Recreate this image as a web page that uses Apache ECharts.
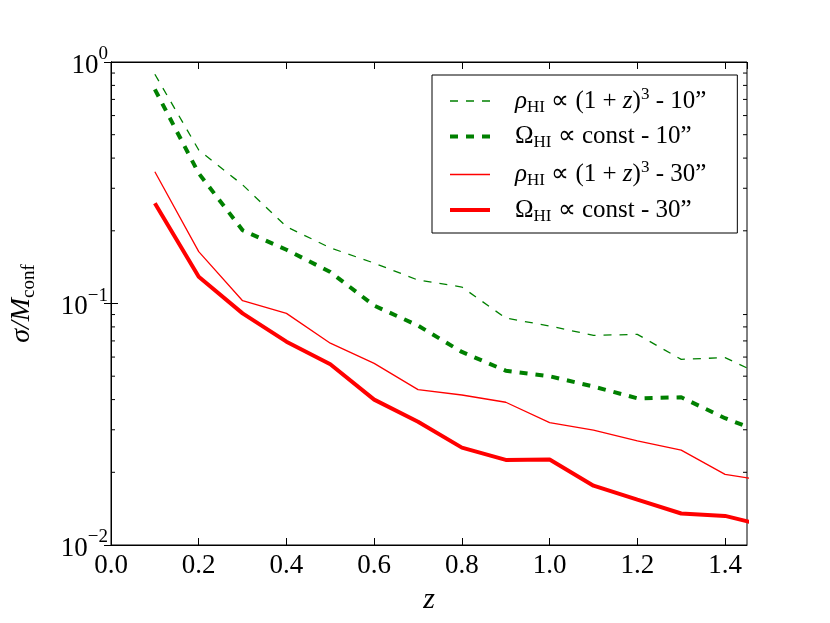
<!DOCTYPE html>
<html>
<head>
<meta charset="utf-8">
<script src="https://cdn.jsdelivr.net/npm/echarts@6/dist/echarts.min.js"></script>
<style>
  html, body { margin: 0; padding: 0; background: #fff; }
  #chart { width: 830px; height: 623px; }
</style>
</head>
<body>
<div id="chart"></div>
<script>
// redshift grid (last point sits past the right edge and is clipped)
var zValues = [0.1, 0.2, 0.3, 0.4, 0.5, 0.6, 0.7, 0.8, 0.9, 1.0, 1.1, 1.2, 1.3, 1.4, 1.5]
// sigma / M_conf
var rho10 = [0.89, 0.432, 0.31, 0.208, 0.170, 0.147, 0.125, 0.117, 0.087, 0.0807, 0.0738, 0.0745, 0.0587, 0.0597, 0.049]
var omega10 = [0.77, 0.346, 0.201, 0.167, 0.135, 0.098, 0.081, 0.063, 0.0527, 0.050, 0.0453, 0.0405, 0.0409, 0.0335, 0.0285]
var rho30 = [0.351, 0.164, 0.1027, 0.091, 0.0685, 0.0565, 0.044, 0.0418, 0.039, 0.0321, 0.0299, 0.0270, 0.0247, 0.0196, 0.0184]
var omega30 = [0.260, 0.129, 0.091, 0.0695, 0.056, 0.040, 0.0324, 0.0253, 0.0225, 0.0226, 0.0176, 0.0154, 0.0135, 0.0132, 0.0119]
// log axis minor ticks
var minorTicks = [0.02, 0.03, 0.04, 0.05, 0.06, 0.07, 0.08, 0.09, 0.2, 0.3, 0.4, 0.5, 0.6, 0.7, 0.8, 0.9]
var seriesNames = ['rho10', 'omega10', 'rho30', 'omega30']

var FONT = 'Liberation Serif'

function pairs (ys) {
  return ys.map(function (y, i) { return [zValues[i], y] })
}

// legend labels with sub/superscripts
var legendText = {
  rho10: '{i|ρ}{sub|HI}{n| ∝ (1 + }{i|z}{n|)}{sup|3}{n| - 10”}',
  omega10: '{n|Ω}{sub|HI}{n| ∝ const - 10”}',
  rho30: '{i|ρ}{sub|HI}{n| ∝ (1 + }{i|z}{n|)}{sup|3}{n| - 30”}',
  omega30: '{n|Ω}{sub|HI}{n| ∝ const - 30”}'
}

var richBase = {
  n: { fontFamily: FONT, fontSize: 25, color: '#000', lineHeight: 30, verticalAlign: 'middle' },
  i: { fontFamily: FONT, fontSize: 25, fontStyle: 'italic', color: '#000', lineHeight: 30, verticalAlign: 'middle' },
  sub: { fontFamily: FONT, fontSize: 17, color: '#000', lineHeight: 16, verticalAlign: 'bottom' },
  sup: { fontFamily: FONT, fontSize: 17, color: '#000', lineHeight: 16, verticalAlign: 'top' }
}

function lineSeries (name, data, color, width, dashed) {
  return {
    name: name,
    type: 'line',
    data: pairs(data),
    symbol: 'none',
    xAxisIndex: 0,
    yAxisIndex: 0,
    lineStyle: {
      color: color,
      width: width,
      type: dashed ? [8, 8] : 'solid',
      cap: 'butt'
    },
    itemStyle: { color: color },
    z: 3
  }
}

var ele = document.getElementById('chart')
var myChart = echarts.init(ele, null, { renderer: 'canvas' })

var axisLineStyle = { show: true, lineStyle: { color: '#000', width: 1 } }

var option = {
  backgroundColor: '#fff',
  animation: false,
  grid: { left: 103, right: 83, top: 62, bottom: 78, show: true, borderColor: '#000', borderWidth: 1 },
  legend: {
    data: seriesNames,
    orient: 'vertical',
    left: 432,
    top: 75,
    padding: [11, 31, 8, 16],
    itemGap: 8,
    itemWidth: 40,
    itemHeight: 14,
    backgroundColor: '#fff',
    borderColor: '#000',
    borderWidth: 1,
    borderRadius: 0,
    selectedMode: false,
    itemStyle: { opacity: 0 },
    lineStyle: { width: 'inherit', type: 'inherit' },
    formatter: function (name) { return legendText[name] },
    textStyle: { padding: [0, 0, 0, 20], rich: richBase }
  },
  xAxis: [
    {
      type: 'value',
      position: 'bottom',
      min: 0,
      max: 1.45,
      interval: 0.2,
      axisLine: axisLineStyle,
      axisTick: { show: true, inside: true, length: 7, lineStyle: { color: '#000' } },
      splitLine: { show: false },
      axisLabel: {
        margin: 7,
        fontFamily: FONT,
        fontSize: 27,
        color: '#000',
        showMaxLabel: false,
        formatter: function (v) {
          var k = Math.round(v / 0.2)
          if (Math.abs(v - k * 0.2) > 1e-6) return ''
          return v.toFixed(1)
        }
      },
      name: '{i|z}',
      nameLocation: 'middle',
      nameGap: 40,
      nameTextStyle: { rich: { i: { fontFamily: FONT, fontSize: 30, fontStyle: 'italic', color: '#000' } } }
    },
    {
      type: 'value',
      position: 'top',
      min: 0,
      max: 1.45,
      interval: 0.2,
      axisLine: axisLineStyle,
      axisTick: { show: true, inside: true, length: 7, lineStyle: { color: '#000' } },
      splitLine: { show: false },
      axisLabel: { show: false }
    }
  ],
  yAxis: [
    {
      type: 'log',
      logBase: 10,
      position: 'left',
      min: 0.01,
      max: 1,
      axisLine: axisLineStyle,
      axisTick: { show: true, inside: true, length: 7, lineStyle: { color: '#000' } },
      splitLine: { show: false },
      axisLabel: {
        margin: 3,
        formatter: function (v) {
          var e = Math.round(Math.log(v) / Math.LN10)
          return '{b|10}{s|' + (e === 0 ? '0' : '−' + (-e)) + '}'
        },
        rich: {
          b: { fontFamily: FONT, fontSize: 27, color: '#000', lineHeight: 34, verticalAlign: 'bottom' },
          s: { fontFamily: FONT, fontSize: 19, color: '#000', lineHeight: 20, verticalAlign: 'top' }
        }
      },
      name: '{i|σ/M}{sub|conf}',
      nameLocation: 'middle',
      nameRotate: 90,
      nameGap: 72,
      nameTextStyle: {
        rich: {
          i: { fontFamily: FONT, fontSize: 28, fontStyle: 'italic', color: '#000', lineHeight: 34, verticalAlign: 'middle' },
          sub: { fontFamily: FONT, fontSize: 19, color: '#000', lineHeight: 18, verticalAlign: 'bottom' }
        }
      }
    },
    {
      type: 'log',
      logBase: 10,
      position: 'right',
      min: 0.01,
      max: 1,
      axisLine: axisLineStyle,
      axisTick: { show: true, inside: true, length: 7, lineStyle: { color: '#000' } },
      splitLine: { show: false },
      axisLabel: { show: false }
    }
  ],
  series: [
    lineSeries('rho10', rho10, '#008000', 1.3, true),
    lineSeries('omega10', omega10, '#008000', 4, true),
    lineSeries('rho30', rho30, '#ff0000', 1.3, false),
    lineSeries('omega30', omega30, '#ff0000', 4, false),
    {
      // minor ticks of the log axis, on both sides of the frame
      type: 'custom',
      name: 'minor',
      silent: true,
      xAxisIndex: 0,
      yAxisIndex: 0,
      clip: false,
      data: minorTicks.map(function (v) { return [0, v] }),
      renderItem: function (params, api) {
        var cs = params.coordSys
        var p = api.coord([0, api.value(1)])
        var style = { stroke: '#000', lineWidth: 1 }
        return {
          type: 'group',
          children: [
            { type: 'line', shape: { x1: cs.x, y1: p[1], x2: cs.x + 4, y2: p[1] }, style: style },
            { type: 'line', shape: { x1: cs.x + cs.width - 4, y1: p[1], x2: cs.x + cs.width, y2: p[1] }, style: style }
          ]
        }
      },
      z: 2
    }
  ]
}

myChart.setOption(option)
</script>
</body>
</html>
